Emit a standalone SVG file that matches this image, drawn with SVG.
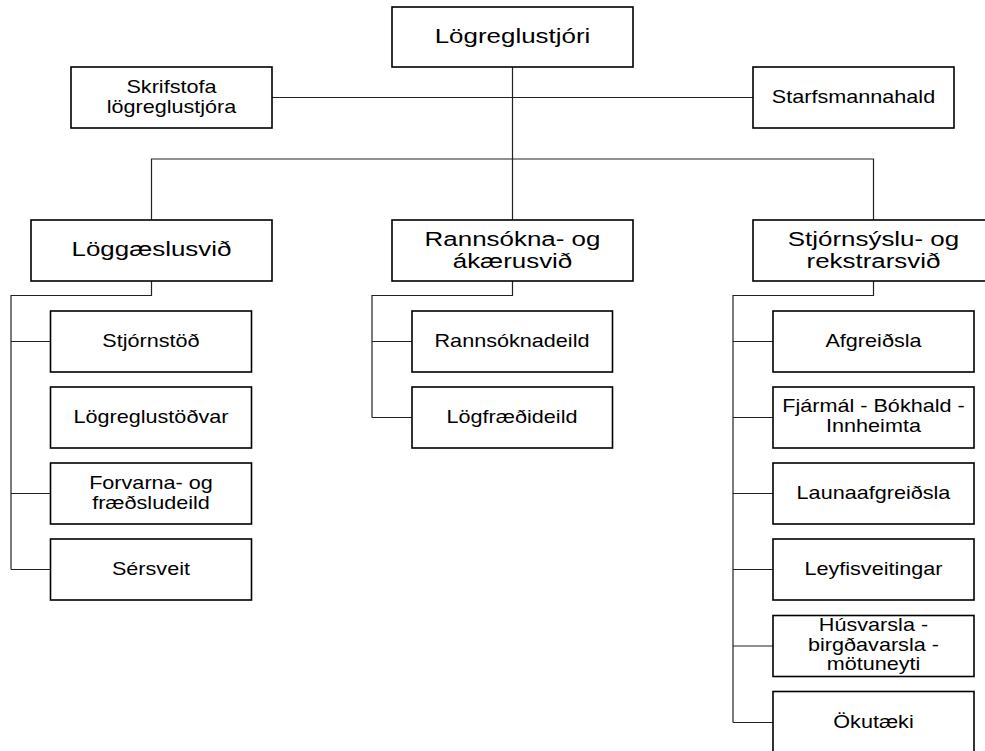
<svg xmlns="http://www.w3.org/2000/svg" width="985" height="751" viewBox="0 0 985 751">
<style>
.bg{fill:#ffffff}
.box{fill:#ffffff;stroke:#000000;stroke-width:1.6}
.con{fill:none;stroke:#222222;stroke-width:1.2}
text{font-family:"Liberation Sans",Arial,sans-serif;fill:#000000;text-anchor:middle;transform-box:fill-box;transform-origin:center;transform:scaleX(1.235)}
.lg{font-size:21px}
.sm{font-size:17.5px}
</style>
<rect class="bg" x="0" y="0" width="985" height="751"/>
<g id="connectors">
<path class="con" d="M512.5,67 V220"/>
<path class="con" d="M272,97.5 H753"/>
<path class="con" d="M151.5,220 V159 H873.5 V220"/>
<path class="con" d="M151.5,281 V295.5 H11 V569.5"/>
<path class="con" d="M11,341.5 H50.5 M11,493.5 H50.5 M11,569.5 H50.5"/>
<path class="con" d="M512.5,281 V295.5 H372 V417.5"/>
<path class="con" d="M372,341.5 H412 M372,417.5 H412"/>
<path class="con" d="M873.5,281 V295.5 H733 V722.5"/>
<path class="con" d="M733,341.5 H773 M733,417.5 H773 M733,493.5 H773 M733,569.5 H773 M733,646 H773 M733,722.5 H773"/>
</g>
<g id="logreglustjori"><rect class="box" x="392" y="7" width="241" height="60"/><text class="lg" x="512.5" y="43.5">Lögreglustjóri</text></g>
<g id="skrifstofa"><rect class="box" x="71" y="67" width="201" height="61"/><text class="sm" x="171.5" y="93.5">Skrifstofa</text><text class="sm" x="171.5" y="113">lögreglustjóra</text></g>
<g id="starfsmannahald"><rect class="box" x="753" y="67" width="201" height="61"/><text class="sm" x="853.5" y="103.5">Starfsmannahald</text></g>
<g id="loggaeslusvid"><rect class="box" x="31" y="220" width="241" height="61"/><text class="lg" x="151.5" y="256.5">Löggæslusvið</text></g>
<g id="rannsoknasvid"><rect class="box" x="392" y="220" width="241" height="61"/><text class="lg" x="512.5" y="246.5">Rannsókna- og</text><text class="lg" x="512.5" y="268">ákærusvið</text></g>
<g id="stjornsyslusvid"><rect class="box" x="753" y="220" width="241" height="61"/><text class="lg" x="873.5" y="246.5">Stjórnsýslu- og</text><text class="lg" x="873.5" y="268">rekstrarsvið</text></g>
<g id="stjornstod"><rect class="box" x="50.5" y="311" width="201" height="61"/><text class="sm" x="151" y="347.5">Stjórnstöð</text></g>
<g id="logreglustodvar"><rect class="box" x="50.5" y="387" width="201" height="61"/><text class="sm" x="151" y="423.5">Lögreglustöðvar</text></g>
<g id="forvarnadeild"><rect class="box" x="50.5" y="463" width="201" height="61"/><text class="sm" x="151" y="489.5">Forvarna- og</text><text class="sm" x="151" y="509">fræðsludeild</text></g>
<g id="sersveit"><rect class="box" x="50.5" y="539" width="201" height="61"/><text class="sm" x="151" y="575.5">Sérsveit</text></g>
<g id="rannsoknadeild"><rect class="box" x="412" y="311" width="200.5" height="61"/><text class="sm" x="512" y="347.5">Rannsóknadeild</text></g>
<g id="logfraedideild"><rect class="box" x="412" y="387" width="200.5" height="61"/><text class="sm" x="512" y="423.5">Lögfræðideild</text></g>
<g id="afgreidsla"><rect class="box" x="773" y="311" width="201" height="61"/><text class="sm" x="873.5" y="347.5">Afgreiðsla</text></g>
<g id="fjarmal"><rect class="box" x="773" y="387" width="201" height="61"/><text class="sm" x="873.5" y="412.5">Fjármál - Bókhald -</text><text class="sm" x="873.5" y="432">Innheimta</text></g>
<g id="launaafgreidsla"><rect class="box" x="773" y="463" width="201" height="61"/><text class="sm" x="873.5" y="499.5">Launaafgreiðsla</text></g>
<g id="leyfisveitingar"><rect class="box" x="773" y="539" width="201" height="61"/><text class="sm" x="873.5" y="575.5">Leyfisveitingar</text></g>
<g id="husvarsla"><rect class="box" x="773" y="615.5" width="201" height="61"/><text class="sm" x="873.5" y="631.5">Húsvarsla -</text><text class="sm" x="873.5" y="651">birgðavarsla -</text><text class="sm" x="873.5" y="670.5">mötuneyti</text></g>
<g id="okutaeki"><rect class="box" x="773" y="691.5" width="201" height="61"/><text class="sm" x="873.5" y="728">Ökutæki</text></g>
</svg>
